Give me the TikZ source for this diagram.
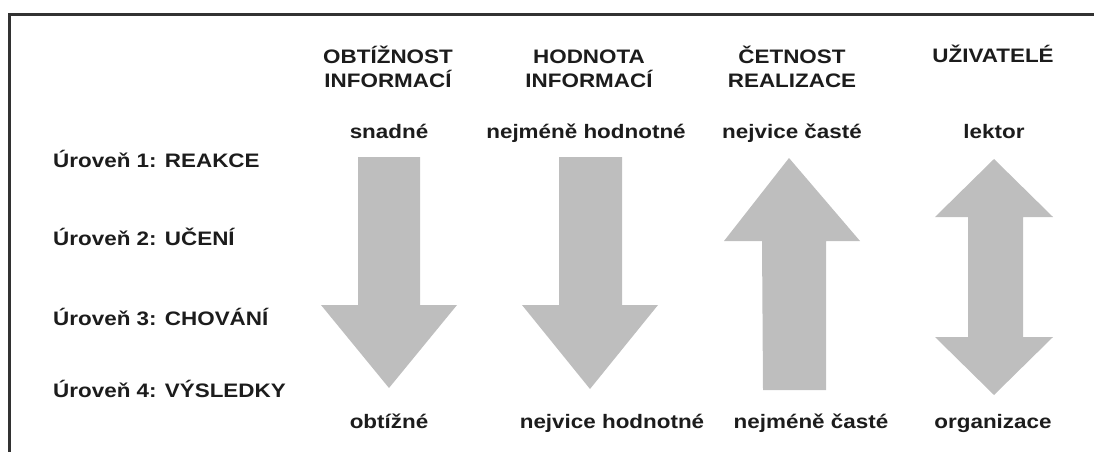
\documentclass[tikz,border=0pt]{standalone}
\usepackage{fontspec}
\usepackage{graphicx}
\setmainfont{Liberation Sans}
\definecolor{arrowgray}{RGB}{190,190,190}
\definecolor{ink}{RGB}{28,28,28}
\definecolor{frame}{RGB}{50,50,50}
% slightly extended lettering
\newcommand{\wide}[1]{\scalebox{1.15}[1]{#1}}
\begin{document}
\begin{tikzpicture}[x=1pt,y=-1pt,
  lbl/.style={font=\fontsize{19.5}{24}\selectfont\bfseries, text=ink,
              inner sep=0pt, anchor=base, align=center},
  levl/.style={lbl, anchor=base west},
  blockarrow/.style={fill=arrowgray, draw=none}]
\useasboundingbox (0,0) rectangle (1094,452);

% frame (top and left edges)
\draw[line width=2.5pt, draw=frame] (9.7,460) -- (9.7,14.5) -- (1100,14.5);

% level labels
\node[levl] (l1) at (53,167) {\wide{Úroveň 1: REAKCE}};
\node[levl] (l2) at (53,245) {\wide{Úroveň 2: UČENÍ}};
\node[levl] (l3) at (53,325) {\wide{Úroveň 3: CHOVÁNÍ}};
\node[levl] (l4) at (53,397) {\wide{Úroveň 4: VÝSLEDKY}};

% column headers (two-line headers sit on the baseline of their last line)
\node[lbl] (h1) at (388,87) {\wide{OBTÍŽNOST}\\\wide{INFORMACÍ}};
\node[lbl] (h2) at (589,87) {\wide{HODNOTA}\\\wide{INFORMACÍ}};
\node[lbl] (h3) at (792,87) {\wide{ČETNOST}\\\wide{REALIZACE}};
\node[lbl] (h4) at (993,63) {\wide{UŽIVATELÉ}};

% top labels
\node[lbl] (t1) at (389,138) {\wide{snadné}};
\node[lbl] (t2) at (586,138) {\wide{nejméně hodnotné}};
\node[lbl] (t3) at (792,138) {\wide{nejvice časté}};
\node[lbl] (t4) at (994,138) {\wide{lektor}};

% bottom labels
\node[lbl] (b1) at (389,428) {\wide{obtížné}};
\node[lbl] (b2) at (612,428) {\wide{nejvice hodnotné}};
\node[lbl] (b3) at (811,428) {\wide{nejméně časté}};
\node[lbl] (b4) at (993,428) {\wide{organizace}};

% column 1: downward arrow
\fill[blockarrow] (358,157) -- (420,157) -- (420,305) -- (457,305)
  -- (389,388) -- (321,305) -- (358,305) -- cycle;
% column 2: downward arrow
\fill[blockarrow] (559,157) -- (622,157) -- (622,305) -- (658,305)
  -- (590,389) -- (522,305) -- (559,305) -- cycle;
% column 3: upward arrow
\fill[blockarrow] (789,158) -- (860,241) -- (826,241) -- (826,390)
  -- (763,390) -- (762,241) -- (724,241) -- cycle;
% column 4: double-headed arrow
\fill[blockarrow] (994,159) -- (1053,217) -- (1023,217) -- (1023,337)
  -- (1053,337) -- (994,395) -- (935,337) -- (968,337) -- (968,217)
  -- (935,217) -- cycle;
\end{tikzpicture}
\end{document}
